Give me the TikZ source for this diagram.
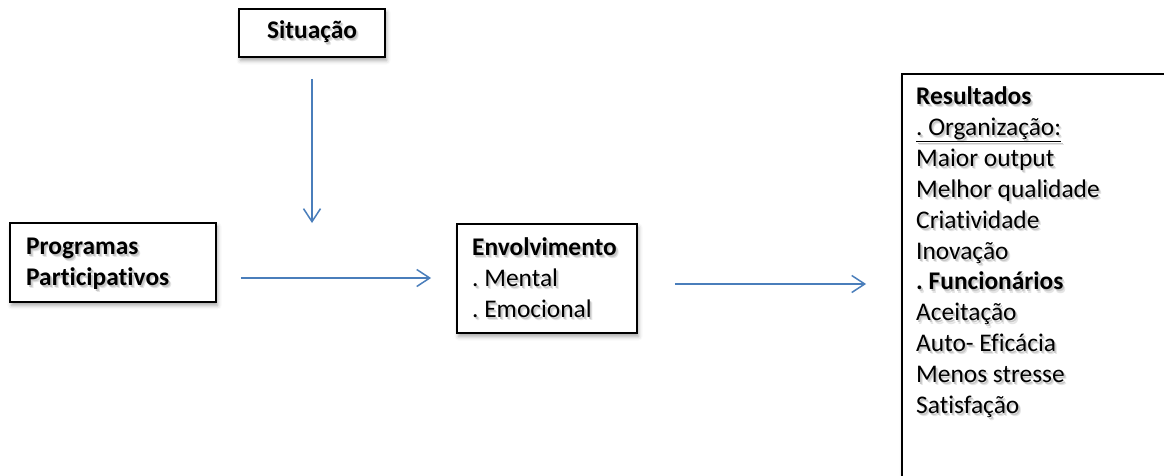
\documentclass[tikz,border=0pt]{standalone}
\usepackage{fontspec}
\setmainfont{Carlito}[Ligatures=NoCommon]
\usetikzlibrary{arrows.meta,shadows.blur}
\definecolor{arrowblue}{RGB}{74,126,187}
\frenchspacing
% text with a soft grey drop shadow
\newcommand\sh[1]{\leavevmode
  \rlap{\textcolor{black!10}{\kern2.6pt\raisebox{-3.2pt}{#1}}}%
  \rlap{\textcolor{black!22}{\kern1.6pt\raisebox{-2pt}{#1}}}%
  #1}
\begin{document}
\begin{tikzpicture}[x=1pt,y=-1pt,
  box/.style={draw=black,line width=1.8pt,fill=white,rectangle,inner sep=0pt,
    blur shadow={shadow xshift=1.5pt,shadow yshift=-3.5pt,shadow opacity=35,shadow blur radius=4pt}},
  txt/.style={align=left,inner sep=0pt,font=\fontsize{25.4pt}{30.9pt}\selectfont},
  arr/.style={draw=arrowblue,line width=1.5pt,-{Straight Barb[length=13pt,width=17pt,line width=1.5pt]}}]
\useasboundingbox (0,0) rectangle (1164,475);
\clip (0,0) rectangle (1164,475);

% boxes
\node[box,minimum width=146pt,minimum height=48pt] (sit) at (312,33) {};
\node[box,minimum width=206pt,minimum height=79pt] (prog) at (113,262.5) {};
\node[box,minimum width=180pt,minimum height=109pt] (env) at (547,278.5) {};
\node[box,minimum width=280pt,minimum height=430pt] (res) at (1042,289) {};

% texts
\node[txt] (sitT) at (sit.center) {\sh{\textbf{Situação}}};
\node[txt,anchor=west] (progT) at (26,265.5) {\sh{\textbf{Programas}}\\ \sh{\textbf{Participativos}}};
\node[txt,anchor=west] (envT) at (472,279) {\sh{\textbf{Envolvimento}}\\ \sh{. Mental}\\ \sh{. Emocional}};
\node[txt,anchor=north west] (resT) at (916,86.5) {\sh{\textbf{Resultados}}\\
  \sh{\underline{. Organização:}}\\
  \sh{Maior output}\\
  \sh{Melhor qualidade}\\
  \sh{Criatividade}\\
  \sh{Inovação}\\
  \sh{\textbf{. Funcionários}}\\
  \sh{Aceitação}\\
  \sh{Auto- Eficácia}\\
  \sh{Menos stresse}\\
  \sh{Satisfação}};

% connectors
\coordinate (sitEnd) at (312,223);
\draw[arr,shorten <=21pt] (sit.south) -- (sitEnd);
\draw[arr,shorten <=24pt,shorten >=25pt] (prog.east |- 0,278) -- (env.west |- 0,278);
\draw[arr,shorten <=37pt,shorten >=35pt] (env.east |- 0,284) -- (res.west |- 0,284);
\end{tikzpicture}
\end{document}
